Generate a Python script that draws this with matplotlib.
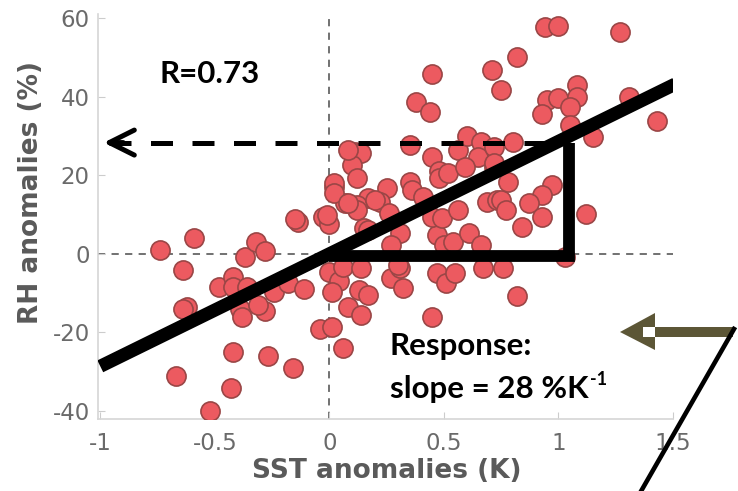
import numpy as np
import matplotlib
matplotlib.use("Agg")
import matplotlib.pyplot as plt
from matplotlib.patches import Polygon, Rectangle
from matplotlib.lines import Line2D

# ============= Data =============

sst = [
    -0.74, -0.59, -0.64, -0.62, -0.64, -0.67, -0.52, -0.43, -0.42, -0.27,
    -0.16, -0.48, -0.42, -0.42, -0.36, -0.39, -0.38, -0.28, -0.31, -0.24,
    -0.18, -0.11, -0.37, -0.32, -0.28, -0.135, -0.15, -0.03, 0.00, -0.04,
    0.01, 0.02, 0.06,
    0.38, 0.44, 0.11, 0.14, 0.10, 0.12, 0.02, 0.35, 0.45, 0.48,
    0.48, 0.52, 0.56, 0.60, 0.66, 0.65, 0.59, 0.35, 0.36, 0.41,
    0.25, 0.22, 0.17, 0.12, 0.07, 0.12, 0.26, -0.01, 0.15, 0.31,
    0.27, 0.47, 0.45, 0.49, 0.56, 0.50, 0.54, 0.61, 0.66, 0.69,
    0.73, 0.72, 0.20, 0.08, 0.02, 0.08, 0.17,
    0.00, 0.04, 0.01, 0.08, 0.14, 0.13, 0.17, 0.06, 0.14, 0.27,
    0.32, 0.31, 0.47, 0.51, 0.55, 0.67, 0.45, 0.30,
    0.94, 1.00, 1.27, 0.82, 0.71, 0.75, 0.95, 1.00, 1.08, 1.08,
    1.05, 0.93, 1.05, 1.15, 1.31, 1.43, 0.80, 0.72, 0.72, 0.45,
    0.97, 0.93, 0.87, 0.93, 0.84, 0.75, 0.77, 0.78, 1.12, 0.76,
    0.82, 1.03,
]
rh = [
    1.0, 4.0, -4.0, -13.5, -14.0, -31.0, -40.0, -34.0, -25.0, -26.0,
    -29.0, -8.4, -6.0, -8.5, -8.5, -14.0, -16.0, -14.5, -13.0, -9.6,
    -7.5, -9.0, -0.8, 3.0, 0.8, 8.0, 8.8, 9.4, 7.6, -19.0,
    -18.6, 17.0, -24.0,
    38.7, 36.0, 26.0, 25.7, 22.6, 19.3, 18.0, 27.7, 24.7, 21.0,
    19.3, 20.6, 26.5, 30.0, 28.5, 24.7, 22.0, 18.3, 16.3, 14.5,
    16.8, 13.2, 14.2, 12.5, 13.0, 11.2, 10.4, 9.9, 6.6, 5.3,
    2.3, 4.8, 9.4, 9.2, 11.2, 2.3, 3.0, 5.3, 2.3, 13.2,
    13.7, 22.0, 13.7, 26.5, 15.5, 13.0, 6.0,
    -4.6, -7.0, -9.6, -13.5, -15.5, -9.2, -10.4, -3.3, -3.6, -6.1,
    -8.7, -3.6, -4.8, -7.4, -4.8, -3.6, -16.0, -2.8,
    57.8, 58.0, 56.5, 50.0, 46.8, 41.7, 39.2, 39.7, 43.0, 40.0,
    37.4, 35.6, 32.8, 29.8, 40.0, 33.8, 28.5, 27.2, 23.0, 45.8,
    17.6, 15.0, 13.0, 9.4, 6.9, 13.7, 11.2, 18.3, 10.2, -3.6,
    -10.7, -0.8,
]

fit_x = [-1.0, 1.51]
slope = 28.6
response_x = 1.045
response_y = 28.3

xticks = [-1, -0.5, 0, 0.5, 1, 1.5]
xticklabels = ["-1", "-0.5", "0", "0.5", "1", "1.5"]
yticks = [-40, -20, 0, 20, 40, 60]
yticklabels = ["-40", "-20", "0", "20", "40", "60"]

# ============= Figure =============

W, H = 738, 491
fig = plt.figure(figsize=(W / 100, H / 100), dpi=100)
ax = fig.add_axes([98 / W, 1 - 419 / H, 575 / W, 405 / H])
ax.set_xlim(-1.01, 1.5)
ax.set_ylim(-42, 61)


def px(x, y):
    return (x / W, 1 - y / H)


# zero lines
ax.axhline(0, color="#666666", lw=1.3, dashes=(4, 3.5), zorder=1)
ax.axvline(0, color="#666666", lw=1.3, dashes=(4, 3.5), zorder=1)

ax.scatter(sst, rh, s=190, facecolor="#ec5a60", edgecolor="#9a4646",
           linewidth=1.2, zorder=3)

# regression line
fit_y = [slope * v for v in fit_x]
ax.plot(fit_x, fit_y, color="black", lw=9.5, solid_capstyle="butt", zorder=5)

# response triangle
ax.plot([0, response_x, response_x], [-0.5, -0.5, response_y], color="black",
        lw=8.5, solid_joinstyle="miter", solid_capstyle="butt", zorder=5)

# dashed arrow to the y axis
ax.plot([-0.96, response_x], [response_y, response_y], color="black", lw=3.6,
        dashes=(4.4, 3.9), zorder=4)
ax.annotate("", xy=(-0.985, response_y), xytext=(-0.9, response_y),
            arrowprops=dict(arrowstyle="->,head_length=1.8,head_width=0.9",
                            lw=3.6, color="black", shrinkA=0, shrinkB=0),
            zorder=6)

# axes style
for side in ["top", "right"]:
    ax.spines[side].set_visible(False)
for side in ["left", "bottom"]:
    ax.spines[side].set_color("#d6d6d6")
    ax.spines[side].set_linewidth(1.2)
ax.set_xticks(xticks)
ax.set_xticklabels(xticklabels)
ax.set_yticks(yticks)
ax.set_yticklabels(yticklabels)
ax.tick_params(direction="in", length=5, color="#cccccc", labelcolor="#6a6a6a",
               labelsize=16.5)
ax.tick_params(axis="x", pad=9)
ax.tick_params(axis="y", pad=6)

fig.text(*px(387, 478), "SST anomalies (K)", ha="center", va="baseline",
         fontsize=19, fontweight="bold", color="#5a5a5a")
fig.text(*px(31, 192), "RH anomalies (%)", ha="center", va="center",
         rotation=90, fontsize=19, fontweight="bold", color="#5a5a5a")

# annotations
fig.text(*px(160, 83), "R=0.73", family="Lato", fontweight="bold",
         fontsize=22.5, color="black", va="baseline")
fig.text(*px(390, 355), "Response:", family="Lato", fontweight="bold",
         fontsize=22.5, color="black", va="baseline")
slope_txt = fig.text(*px(390, 398), "slope = 28 %K", family="Lato",
                     fontweight="bold", fontsize=22.5, color="black",
                     va="baseline")
fig.canvas.draw()
bb = slope_txt.get_window_extent()
fig.text(*px(bb.x1 + 1, 385), "-1", family="Lato", fontweight="bold",
         fontsize=13, color="black", va="baseline")

# olive arrow and slanted line outside the axes
arrow_pts = [px(620, 332), px(655, 313), px(655, 327), px(733, 327),
             px(733, 337), px(655, 337), px(655, 350)]
fig.patches.append(Polygon(arrow_pts, closed=True, facecolor="#5c5636",
                           edgecolor="none", transform=fig.transFigure))
fig.patches.append(Rectangle(px(643, 337), 12 / W, 10 / H, facecolor="white",
                             edgecolor="none", transform=fig.transFigure))
x0, y0 = px(734, 329)
x1, y1 = px(640, 493)
fig.lines.append(Line2D([x0, x1], [y0, y1], color="black", lw=3.3,
                        transform=fig.transFigure))

plt.savefig("out.png", dpi=100)
plt.close()
